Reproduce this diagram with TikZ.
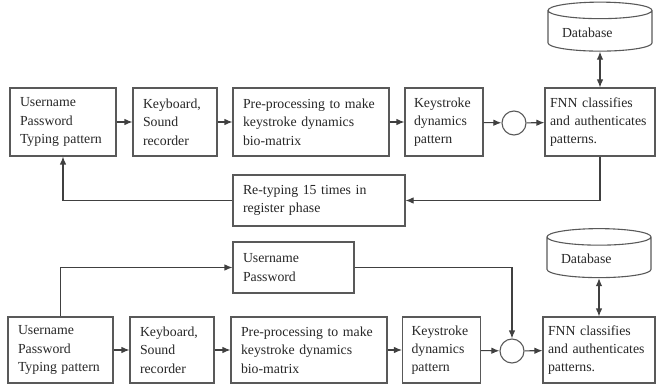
\documentclass[tikz,border=0pt]{standalone}
\usepackage{fontspec}
\setmainfont{Liberation Serif}
\usetikzlibrary{arrows.meta,shapes.geometric}
\hyphenpenalty=10000
\begin{document}
\begin{tikzpicture}[x=1pt, y=-1pt,
    every node/.style={font=\fontsize{13.8}{18.3}\selectfont, text=black!85},
    blk/.style 2 args={draw=black!65, line width=1.1pt, rectangle, align=left,
        text width=#1, minimum height=#2, inner xsep=10pt},
    sum/.style={draw=black!65, line width=1.1pt, circle, minimum size=24pt, inner sep=0pt},
    db/.style={draw=black!65, line width=1.1pt, cylinder, shape border rotate=90,
        aspect=0.2, minimum width=104pt, minimum height=49pt, align=left, text width=76pt},
    arr/.style={draw=black!75, line width=1.1pt, -{Latex[length=8pt,width=6.5pt]}},
    dbl/.style={draw=black!75, line width=1.1pt, {Latex[length=8pt,width=6.5pt]}-{Latex[length=8pt,width=6.5pt]}}]
\useasboundingbox (0,0) rectangle (656,385);

% enrolment
\node[blk={86pt}{68pt}] (user1) at (63,122) {Username\\Password\\Typing pattern};
\node[blk={64pt}{68pt}] (kb1) at (175,122) {Keyboard,\\Sound\\recorder};
\node[blk={136pt}{68pt}] (pre1) at (311,122) {Pre-processing to make\\keystroke dynamics\\bio-matrix};
\node[blk={60pt}{68pt}, inner xsep=9pt] (ks1) at (444,122) {Keystroke\\dynamics\\pattern};
\node[sum] (circ1) at (514,123) {};
\node[blk={100pt}{68pt}, inner xsep=5pt] (fnn1) at (600,122) {FNN classifies\\and authenticates\\patterns.};
\node[db] (db1) at (600,32.5) {Database};
\node[blk={152pt}{51pt}] (retype) at (319,200.5) {Re-typing 15 times in\\register phase};

\draw[arr] (user1) -- (kb1);
\draw[arr] (kb1) -- (pre1);
\draw[arr] (pre1) -- (ks1);
\draw[arr] (ks1) -- (circ1);
\draw[arr] (circ1) -- (fnn1);
\draw[dbl] (db1.south) -- (fnn1.north);
\draw[arr] (fnn1.south) |- (retype.east);
\draw[arr] (retype.west) -| (user1.south);

% login
\node[blk={85pt}{66pt}] (user2) at (60.5,350) {Username\\Password\\Typing pattern};
\node[blk={64pt}{66pt}] (kb2) at (172,350) {Keyboard,\\Sound\\recorder};
\node[blk={136pt}{66pt}] (pre2) at (309,350) {Pre-processing to make\\keystroke dynamics\\bio-matrix};
\node[blk={60pt}{66pt}, inner xsep=9pt] (ks2) at (441.5,350) {Keystroke\\dynamics\\pattern};
\node[sum] (circ2) at (512,351) {};
\node[blk={102pt}{66pt}, inner xsep=5pt] (fnn2) at (599,350) {FNN classifies\\and authenticates\\patterns.};
\node[db] (db2) at (599,259) {Database};
\node[blk={101pt}{51pt}] (up2) at (293.5,267.5) {Username\\Password};

\draw[arr] (user2) -- (kb2);
\draw[arr] (kb2) -- (pre2);
\draw[arr] (pre2) -- (ks2);
\draw[arr] (ks2) -- (circ2);
\draw[arr] (circ2) -- (fnn2);
\draw[dbl] (db2.south) -- (fnn2.north);
\draw[arr] (user2.north) |- (up2.west);
\draw[arr] (up2.east) -| (circ2.north);
\end{tikzpicture}
\end{document}
